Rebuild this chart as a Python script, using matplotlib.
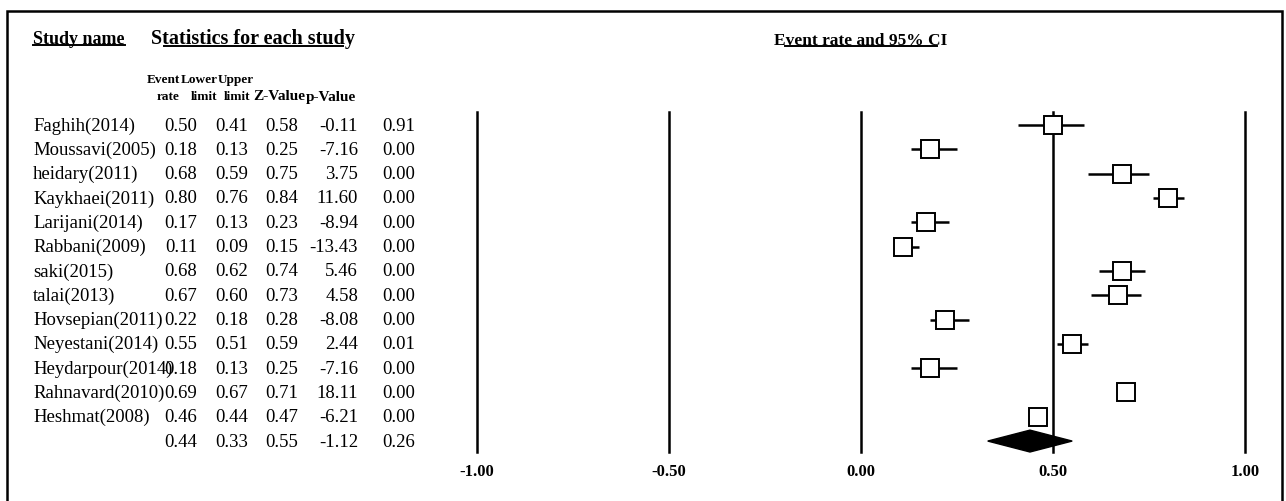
"""Forest plot of event rates with 95% CI (CMA style)."""

import matplotlib
matplotlib.use("Agg")
import matplotlib.pyplot as plt
import matplotlib.transforms as mtransforms
from matplotlib.lines import Line2D
from matplotlib.patches import Rectangle, Polygon

plt.rcParams["font.family"] = ["Liberation Serif", "DejaVu Serif"]

studies = [
    "Faghih(2014)", "Moussavi(2005)", "heidary(2011)", "Kaykhaei(2011)",
    "Larijani(2014)", "Rabbani(2009)", "saki(2015)", "talai(2013)",
    "Hovsepian(2011)", "Neyestani(2014)", "Heydarpour(2014)",
    "Rahnavard(2010)", "Heshmat(2008)",
]
event_rate = [0.50, 0.18, 0.68, 0.80, 0.17, 0.11, 0.68, 0.67, 0.22, 0.55, 0.18, 0.69, 0.46]
lower_limit = [0.41, 0.13, 0.59, 0.76, 0.13, 0.09, 0.62, 0.60, 0.18, 0.51, 0.13, 0.67, 0.44]
upper_limit = [0.58, 0.25, 0.75, 0.84, 0.23, 0.15, 0.74, 0.73, 0.28, 0.59, 0.25, 0.71, 0.47]
z_value = [-0.11, -7.16, 3.75, 11.60, -8.94, -13.43, 5.46, 4.58, -8.08, 2.44, -7.16, 18.11, -6.21]
p_value = [0.91, 0.00, 0.00, 0.00, 0.00, 0.00, 0.00, 0.00, 0.00, 0.01, 0.00, 0.00, 0.00]

summary = {"rate": 0.44, "lower": 0.33, "upper": 0.55, "z": -1.12, "p": 0.26}

ticks = [-1.0, -0.5, 0.0, 0.5, 1.0]
tick_labels = ["-1.00", "-0.50", "0.00", "0.50", "1.00"]

W, H = 1286, 502
fig = plt.figure(figsize=(W / 100, H / 100), dpi=100)
fig.patch.set_facecolor("white")


def fx(px):
    return px / W


def fy(py):
    return 1 - py / H


# forest panel
ax = fig.add_axes([fx(477), fy(453), fx(1245 - 477), (453 - 113) / H])
n = len(studies)
ax.set_xlim(-1, 1)
ax.set_ylim(n + 0.45, -0.535)
for s in ax.spines.values():
    s.set_visible(False)
ax.set_yticks([])
ax.set_xticks(ticks)
ax.set_xticklabels(tick_labels, fontsize=12, fontweight="bold")
ax.tick_params(axis="x", length=0, pad=8)

for t in ticks:
    ax.axvline(t, color="black", lw=1.8, zorder=1, clip_on=False)

for i in range(n):
    ax.plot([lower_limit[i], upper_limit[i]], [i, i], color="black",
            lw=1.8, solid_capstyle="butt", zorder=2)
    ax.plot(event_rate[i], i, marker="s", ms=13.5, mfc="white",
            mec="black", mew=1.4, zorder=3, clip_on=False)

sy = n
dh = 0.45
ax.add_patch(Polygon(
    [(summary["lower"], sy), (summary["rate"], sy - dh),
     (summary["upper"], sy), (summary["rate"], sy + dh)],
    closed=True, facecolor="black", edgecolor="black", zorder=4,
    clip_on=False))

# table on the left
tr = mtransforms.blended_transform_factory(fig.transFigure, ax.transData)
fs = 13.5
for i in range(n + 1):
    if i < n:
        vals = (studies[i], event_rate[i], lower_limit[i], upper_limit[i],
                z_value[i], p_value[i])
    else:
        vals = ("", summary["rate"], summary["lower"], summary["upper"],
                summary["z"], summary["p"])
    ax.text(fx(33), i, vals[0], transform=tr, ha="left", va="center",
            fontsize=fs)
    ax.text(fx(181), i, f"{vals[1]:.2f}", transform=tr, ha="center",
            va="center", fontsize=fs)
    ax.text(fx(232), i, f"{vals[2]:.2f}", transform=tr, ha="center",
            va="center", fontsize=fs)
    ax.text(fx(282), i, f"{vals[3]:.2f}", transform=tr, ha="center",
            va="center", fontsize=fs)
    ax.text(fx(358), i, f"{vals[4]:.2f}", transform=tr, ha="right",
            va="center", fontsize=fs)
    ax.text(fx(399), i, f"{vals[5]:.2f}", transform=tr, ha="center",
            va="center", fontsize=fs)

# column headers (squeezed to fit the narrow columns)
hfs = 9.5
head1 = [("Event", 180), ("Lower", 217.5), ("Upper", 254)]
head2 = [("rate", 180), ("limit", 217), ("limit", 250)]
for lab, x in head1:
    fig.text(fx(x), fy(80), lab, ha="right", va="center", fontsize=hfs,
             fontweight="bold")
for lab, x in head2:
    fig.text(fx(x), fy(97), lab, ha="right", va="center", fontsize=hfs,
             fontweight="bold")
fig.text(fx(305), fy(97), "Z-Value", ha="right", va="center", fontsize=11,
         fontweight="bold")
fig.text(fx(306), fy(97), "p-Value", ha="left", va="center", fontsize=11,
         fontweight="bold")

t_study = fig.text(fx(33), fy(39), "Study name", ha="left", va="center",
                   fontsize=13, fontweight="bold")
t_stats = fig.text(fx(253), fy(39), "Statistics for each study",
                   ha="center", va="center", fontsize=14.5, fontweight="bold")
t_title = fig.text(fx(861), fy(41), "Event rate and 95% CI", ha="center",
                   va="center", fontsize=12.5, fontweight="bold")

# outer frame, cut at the bottom edge
fig.add_artist(Rectangle((fx(7), -0.1), fx(1282 - 7), fy(12) + 0.1,
                         transform=fig.transFigure, fill=False,
                         edgecolor="black", lw=1.8, clip_on=False))

# underlines
fig.canvas.draw()
renderer = fig.canvas.get_renderer()
inv = fig.transFigure.inverted()
for txt, tl, trr in [(t_study, 0, 0), (t_stats, 13, 12), (t_title, 11, 11)]:
    bb = txt.get_window_extent(renderer)
    (x0, y0), (x1, _) = inv.transform([(bb.x0 + tl, bb.y0 + 2),
                                       (bb.x1 - trr, bb.y0 + 2)])
    fig.add_artist(Line2D([x0, x1], [y0, y0], transform=fig.transFigure,
                          color="black", lw=1.4))

fig.savefig("out.png", dpi=100, facecolor="white")
